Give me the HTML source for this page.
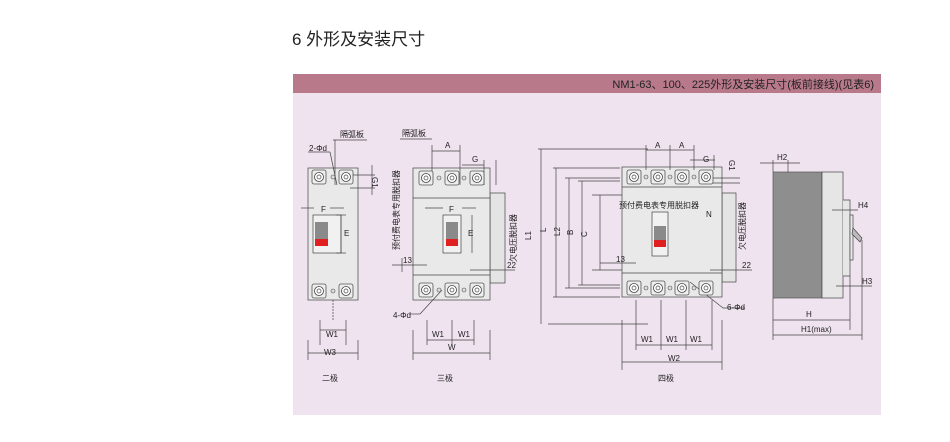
<!DOCTYPE html>
<html><head><meta charset="utf-8"><style>
body{margin:0;background:#fff;width:950px;height:437px;overflow:hidden;font-family:"Liberation Sans","Noto Sans CJK SC",sans-serif}
</style></head><body>
<svg width="950" height="437" xmlns="http://www.w3.org/2000/svg" font-family="Liberation Sans, Noto Sans CJK SC, sans-serif">
<text x="292" y="45" font-size="17" fill="#222">6 外形及安装尺寸</text>
<rect x="293" y="93" width="588" height="322" fill="#efe3ef"/>
<rect x="293" y="74" width="588" height="19" fill="#b87a8a"/>
<text x="874" y="88" font-size="11" fill="#222" text-anchor="end">NM1-63、100、225外形及安装尺寸(板前接线)(见表6)</text>
<defs>
<g id="t"><rect x="-7" y="-7" width="14" height="14" rx="2" fill="#eee" stroke="#555" stroke-width="0.8"/><circle r="4.5" fill="#fff" stroke="#444" stroke-width="0.8"/><circle r="2" fill="none" stroke="#444" stroke-width="0.7"/></g>
<g id="s"><circle r="2" fill="#ddd" stroke="#555" stroke-width="0.6"/></g>
</defs>
<g stroke="#444" stroke-width="0.7" fill="none">
<!-- 2 pole -->
<rect x="308" y="168" width="50" height="132" fill="#e9e9e9"/>
<rect x="313" y="215" width="28" height="38" fill="#f1f1f1"/>
<line x1="308" y1="340" x2="308" y2="360"/><line x1="358" y1="340" x2="358" y2="360"/>
<line x1="308" y1="353" x2="358" y2="353"/><line x1="320" y1="330" x2="346" y2="330"/>
<line x1="320" y1="320" x2="320" y2="345"/><line x1="346" y1="320" x2="346" y2="345"/>
<line x1="301" y1="208" x2="314" y2="208"/><line x1="330" y1="208" x2="344" y2="208"/>
<line x1="341" y1="215" x2="341" y2="253"/><line x1="336" y1="215" x2="346" y2="215"/><line x1="336" y1="253" x2="346" y2="253"/>
<line x1="333" y1="140" x2="367" y2="140"/><line x1="335" y1="140" x2="335" y2="185"/>
<line x1="308" y1="152" x2="330" y2="152"/><line x1="330" y1="152" x2="337" y2="185"/>
<line x1="350" y1="175" x2="375" y2="175"/><line x1="350" y1="188" x2="375" y2="188"/><line x1="372" y1="165" x2="372" y2="195"/>
<line x1="333" y1="300" x2="333" y2="320" stroke-dasharray="2,1"/>
<!-- 3 pole -->
<rect x="490" y="193" width="15" height="90" fill="#e4e4e4"/>
<rect x="413" y="168" width="77" height="132" fill="#e9e9e9"/>
<line x1="413" y1="198" x2="490" y2="198"/><line x1="413" y1="275" x2="490" y2="275"/>
<rect x="443" y="215" width="18" height="38" fill="#f1f1f1"/>
<line x1="413" y1="330" x2="413" y2="360"/><line x1="490" y1="330" x2="490" y2="360"/>
<line x1="413" y1="353" x2="490" y2="353"/><line x1="427" y1="340" x2="474" y2="340"/>
<line x1="427" y1="320" x2="427" y2="345"/><line x1="452" y1="320" x2="452" y2="345"/><line x1="474" y1="320" x2="474" y2="345"/>
<line x1="400" y1="139" x2="432" y2="139"/><line x1="432" y1="145" x2="432" y2="185"/><line x1="432" y1="151" x2="460" y2="151"/><line x1="460" y1="145" x2="460" y2="185"/>
<line x1="462" y1="165" x2="484" y2="165"/><line x1="484" y1="160" x2="484" y2="185"/><line x1="496" y1="160" x2="496" y2="185"/>
<line x1="425" y1="208" x2="443" y2="208"/><line x1="462" y1="208" x2="476" y2="208"/><line x1="472" y1="215" x2="472" y2="253"/>
<line x1="392" y1="265" x2="427" y2="265"/><line x1="402" y1="258" x2="402" y2="272"/>
<line x1="470" y1="270" x2="515" y2="270"/>
<line x1="410" y1="314" x2="420" y2="314"/><line x1="420" y1="314" x2="442" y2="290"/>
<!-- 4 pole -->
<rect x="722" y="193" width="14" height="89" fill="#e4e4e4"/>
<rect x="622" y="167" width="100" height="130" fill="#e9e9e9"/>
<line x1="622" y1="187" x2="722" y2="187"/><line x1="622" y1="273" x2="722" y2="273"/>
<rect x="652" y="212" width="16" height="44" fill="#f1f1f1"/>
<line x1="538" y1="149" x2="648" y2="149"/><line x1="548" y1="324" x2="648" y2="324"/><line x1="541" y1="149" x2="541" y2="324"/>
<line x1="553" y1="168" x2="620" y2="168"/><line x1="553" y1="297" x2="620" y2="297"/><line x1="556" y1="168" x2="556" y2="297"/>
<line x1="565" y1="178" x2="620" y2="178"/><line x1="565" y1="288" x2="620" y2="288"/><line x1="569" y1="178" x2="569" y2="288"/>
<line x1="578" y1="181" x2="620" y2="181"/><line x1="578" y1="285" x2="620" y2="285"/><line x1="582" y1="181" x2="582" y2="285"/>
<line x1="592" y1="195" x2="622" y2="195"/><line x1="592" y1="270" x2="622" y2="270"/><line x1="600" y1="195" x2="600" y2="270"/>
<line x1="600" y1="263" x2="636" y2="263"/>
<line x1="622" y1="320" x2="622" y2="370"/><line x1="722" y1="320" x2="722" y2="370"/><line x1="622" y1="362" x2="722" y2="362"/>
<line x1="636" y1="345" x2="712" y2="345"/><line x1="636" y1="300" x2="636" y2="350"/><line x1="661" y1="300" x2="661" y2="350"/><line x1="686" y1="300" x2="686" y2="350"/><line x1="712" y1="300" x2="712" y2="350"/>
<line x1="646" y1="150" x2="670" y2="150"/><line x1="670" y1="150" x2="694" y2="150"/><line x1="646" y1="145" x2="646" y2="170"/><line x1="670" y1="145" x2="670" y2="170"/><line x1="694" y1="145" x2="694" y2="170"/>
<line x1="690" y1="160" x2="715" y2="160"/><line x1="714" y1="155" x2="714" y2="170"/>
<line x1="710" y1="178" x2="740" y2="178"/><line x1="710" y1="183" x2="740" y2="183"/>
<line x1="710" y1="270" x2="752" y2="270"/>
<line x1="690" y1="282" x2="723" y2="308"/><line x1="723" y1="308" x2="745" y2="308"/>
<!-- side -->
<rect x="773" y="172" width="49" height="126" fill="#8e8e8e" stroke="#555"/>
<rect x="822" y="172" width="21" height="126" fill="#e6e6e6"/>
<path d="M843 200 H850 V276 H843" fill="#e6e6e6"/>
<rect x="850" y="215" width="3" height="45" fill="#e9e9e9"/>
<path d="M853 228 L862 238 L860 242 L852 234Z" fill="#bbb"/>
<line x1="773" y1="298" x2="773" y2="340"/><line x1="850" y1="276" x2="850" y2="330"/><line x1="862" y1="240" x2="862" y2="340"/>
<line x1="773" y1="320" x2="850" y2="320"/><line x1="773" y1="335" x2="862" y2="335"/>
<line x1="773" y1="160" x2="773" y2="172"/><line x1="788" y1="160" x2="788" y2="172"/><line x1="760" y1="163" x2="800" y2="163"/>
<line x1="832" y1="210" x2="858" y2="210"/><line x1="836" y1="286" x2="872" y2="286"/>
</g>
<g>
<use href="#t" x="319" y="177"/><use href="#t" x="346" y="177"/><use href="#s" x="333" y="177"/>
<use href="#t" x="319" y="291"/><use href="#t" x="346" y="291"/><use href="#s" x="333" y="291"/>
<use href="#t" x="426" y="178"/><use href="#t" x="452" y="178"/><use href="#t" x="477" y="178"/><use href="#s" x="439" y="178"/><use href="#s" x="464" y="178"/>
<use href="#t" x="426" y="290"/><use href="#t" x="452" y="290"/><use href="#t" x="477" y="290"/><use href="#s" x="439" y="290"/><use href="#s" x="464" y="290"/>
<use href="#t" x="634" y="177"/><use href="#t" x="658" y="177"/><use href="#t" x="682" y="177"/><use href="#t" x="706" y="177"/>
<use href="#s" x="646" y="177"/><use href="#s" x="670" y="177"/><use href="#s" x="694" y="177"/>
<use href="#t" x="634" y="288"/><use href="#t" x="658" y="288"/><use href="#t" x="682" y="288"/><use href="#t" x="706" y="288"/>
<use href="#s" x="646" y="288"/><use href="#s" x="670" y="288"/><use href="#s" x="694" y="288"/>
</g>
<rect x="315" y="222" width="13" height="18" fill="#8a8a8a"/><rect x="315" y="239" width="13" height="7" fill="#e02020"/>
<rect x="446" y="222" width="12" height="18" fill="#8a8a8a"/><rect x="446" y="239" width="12" height="7" fill="#e02020"/>
<rect x="654" y="226" width="12" height="14" fill="#8a8a8a"/><rect x="654" y="240" width="12" height="7" fill="#e02020"/>
<g font-size="8" fill="#222">
<text x="340" y="137">隔弧板</text><text x="309" y="151">2-Φd</text><text x="321" y="212">F</text><text x="344" y="236">E</text>
<text x="326" y="337">W1</text><text x="324" y="355">W3</text><text x="322" y="381">二极</text>
<text x="402" y="136">隔弧板</text><text x="445" y="148">A</text><text x="472" y="162">G</text><text x="449" y="212">F</text><text x="468" y="236">E</text>
<text x="403" y="263">13</text><text x="507" y="268">22</text><text x="393" y="318">4-Φd</text>
<text x="432" y="337">W1</text><text x="458" y="337">W1</text><text x="448" y="350">W</text><text x="437" y="381">三极</text>
<text x="655" y="148">A</text><text x="679" y="148">A</text><text x="703" y="162">G</text><text x="619" y="208">预付费电表专用脱扣器</text><text x="706" y="217">N</text>
<text x="616" y="262">13</text><text x="742" y="268">22</text><text x="727" y="310">6-Φd</text>
<text x="641" y="342">W1</text><text x="666" y="342">W1</text><text x="690" y="342">W1</text><text x="668" y="361">W2</text><text x="658" y="381">四极</text>
<text x="777" y="160">H2</text><text x="858" y="208">H4</text><text x="862" y="284">H3</text><text x="806" y="317">H</text><text x="801" y="332">H1(max)</text>
<text transform="translate(531,240) rotate(-90)">L1</text><text transform="translate(546,232) rotate(-90)">L</text>
<text transform="translate(560,236) rotate(-90)">L2</text><text transform="translate(573,235) rotate(-90)">B</text><text transform="translate(587,237) rotate(-90)">C</text>
<text transform="translate(372,177) rotate(90)">G1</text><text transform="translate(729,160) rotate(90)">G1</text>
<text transform="translate(399,250) rotate(-90)">预付费电表专用脱扣器</text>
<text transform="translate(516,262) rotate(-90)">欠电压脱扣器</text>
<text transform="translate(745,250) rotate(-90)">欠电压脱扣器</text>
</g>
</svg>
</body></html>
